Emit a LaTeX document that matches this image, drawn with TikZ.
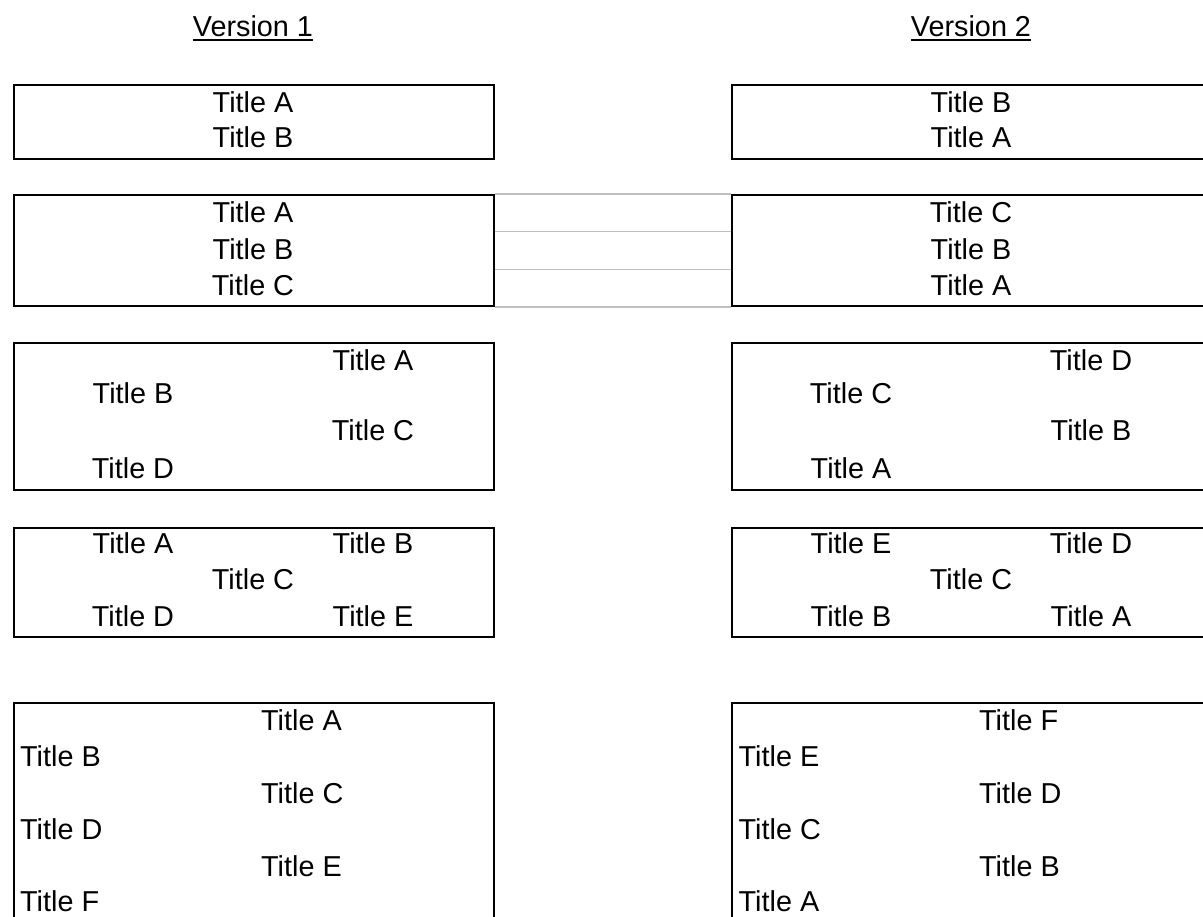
\documentclass[tikz,border=0pt]{standalone}
\usepackage{fontspec}
\setmainfont{Liberation Sans}
\usetikzlibrary{calc}
\begin{document}
\begin{tikzpicture}[x=1pt,y=-1pt,
  box/.style={draw=black,line width=2pt,rectangle,inner sep=0pt,anchor=north west,minimum width=480pt},
  txt/.style={inner sep=0pt,anchor=base,font=\fontsize{28.8}{34}\selectfont},
  ltxt/.style={txt,anchor=base west},
  gridline/.style={draw=gray!50,line width=1.5pt},
  uline/.style={line width=1.6pt}]
\useasboundingbox (0,0) rectangle (1203,917);
\clip (0,0) rectangle (1203,917);

% headers
\node[txt] (v1) at (253,36.7) {Version 1};
\node[txt] (v2) at (971,36.7) {Version 2};
\draw[uline] ([yshift=-3.5pt]v1.base west) -- ([yshift=-3.5pt]v1.base east);
\draw[uline] ([yshift=-3.5pt]v2.base west) -- ([yshift=-3.5pt]v2.base east);

% boxes
\node[box,minimum height=74pt]  (L1) at (13,84) {};
\node[box,minimum height=74pt]  (R1) at (731,84) {};
\node[box,minimum height=111pt] (L2) at (13,194) {};
\node[box,minimum height=111pt] (R2) at (731,194) {};
\node[box,minimum height=147pt] (L3) at (13,342) {};
\node[box,minimum height=147pt] (R3) at (731,342) {};
\node[box,minimum height=109pt] (L4) at (13,527) {};
\node[box,minimum height=109pt] (R4) at (731,527) {};
\node[box,minimum height=222pt] (L5) at (13,702) {};
\node[box,minimum height=222pt] (R5) at (731,702) {};

% connecting grid lines between box 2s
\draw[gridline] (L2.north east) -- (R2.north west);
\draw[gridline] ($(L2.north east)!1/3!(L2.south east)$) -- ($(R2.north west)!1/3!(R2.south west)$);
\draw[gridline] ($(L2.north east)!2/3!(L2.south east)$) -- ($(R2.north west)!2/3!(R2.south west)$);
\draw[gridline] (L2.south east) -- (R2.south west);

% box 1
\node[txt] (l1a) at (253,112.3) {Title A};
\node[txt] (l1b) at (253,147.8) {Title B};
\node[txt] (r1a) at (971,112.3) {Title B};
\node[txt] (r1b) at (971,147.8) {Title A};

% box 2
\node[txt] (l2a) at (253,222.7) {Title A};
\node[txt] (l2b) at (253,259.3) {Title B};
\node[txt] (l2c) at (253,296) {Title C};
\node[txt] (r2a) at (971,222.7) {Title C};
\node[txt] (r2b) at (971,259.3) {Title B};
\node[txt] (r2c) at (971,296) {Title A};

% box 3
\node[txt] (l3a) at (373,370.7) {Title A};
\node[txt] (l3b) at (133,404) {Title B};
\node[txt] (l3c) at (373,440.7) {Title C};
\node[txt] (l3d) at (133,478.3) {Title D};
\node[txt] (r3a) at (1091,370.7) {Title D};
\node[txt] (r3b) at (851,404) {Title C};
\node[txt] (r3c) at (1091,440.7) {Title B};
\node[txt] (r3d) at (851,478.3) {Title A};

% box 4
\node[txt] (l4a) at (133,553.3) {Title A};
\node[txt] (l4b) at (373,553.3) {Title B};
\node[txt] (l4c) at (253,589) {Title C};
\node[txt] (l4d) at (133,626) {Title D};
\node[txt] (l4e) at (373,626) {Title E};
\node[txt] (r4a) at (851,553.3) {Title E};
\node[txt] (r4b) at (1091,553.3) {Title D};
\node[txt] (r4c) at (971,589) {Title C};
\node[txt] (r4d) at (851,626) {Title B};
\node[txt] (r4e) at (1091,626) {Title A};

% box 5
\node[ltxt] (l5a) at (261,730) {Title A};
\node[ltxt] (l5b) at (20,766.7) {Title B};
\node[ltxt] (l5c) at (261,803.3) {Title C};
\node[ltxt] (l5d) at (20,839.3) {Title D};
\node[ltxt] (l5e) at (261,876.7) {Title E};
\node[ltxt] (l5f) at (20,911.7) {Title F};
\node[ltxt] (r5a) at (979,730) {Title F};
\node[ltxt] (r5b) at (738.5,766.7) {Title E};
\node[ltxt] (r5c) at (979,803.3) {Title D};
\node[ltxt] (r5d) at (738.5,839.3) {Title C};
\node[ltxt] (r5e) at (979,876.7) {Title B};
\node[ltxt] (r5f) at (738.5,911.7) {Title A};
\end{tikzpicture}
\end{document}
